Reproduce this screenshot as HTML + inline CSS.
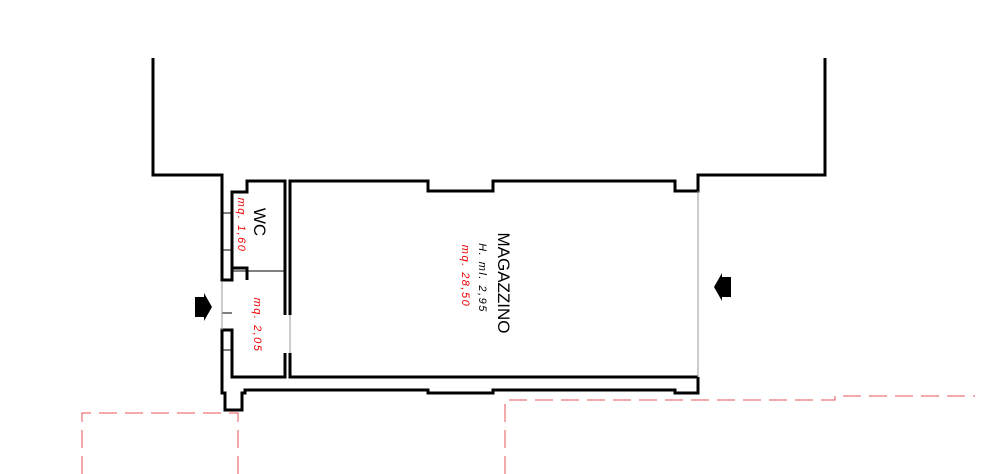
<!DOCTYPE html>
<html><head><style>html,body{margin:0;padding:0;background:#fff;}svg{display:block;}</style></head>
<body>
<svg width="983" height="474" viewBox="0 0 983 474" xmlns="http://www.w3.org/2000/svg" font-family="Liberation Sans, sans-serif">
<g fill="none" stroke="#000" stroke-width="3" stroke-linejoin="miter">
<polyline points="153,58 153,175 222,175 222,280 232,280 232,268 247,268 247,280"/>
<polyline points="285,268 285,181 247,181 247,192 232,192 232,268"/>
<polyline points="285,268 285,315"/>
<polyline points="290,315 290,181 428,181 428,191 493,191 493,181 675,181 675,191 698,191 698,175 825,175 825,58"/>
<polyline points="290,353 290,377 698,377"/>
<polyline points="698,377 698,393 675,393 675,390 493,390 493,393 428,393 428,390 245,390 245,393 242,393 242,410 225,410 225,393 222,393 222,330 232,330 232,377 285,377 285,353"/>
</g>
<g stroke="#000" stroke-width="1">
<line x1="232" y1="271" x2="285" y2="271"/>
<line x1="222" y1="213" x2="232" y2="213"/>
<line x1="222" y1="250" x2="232" y2="250"/>
<line x1="222" y1="313" x2="232" y2="313"/>
<line x1="222" y1="350" x2="232" y2="350"/>
</g>
<g stroke="#999" stroke-width="1">
<line x1="222" y1="282" x2="222" y2="330"/>
<line x1="290" y1="315" x2="290" y2="353"/>
<line x1="698" y1="191" x2="698" y2="377"/>
</g>
<g fill="none" stroke="#e85555" stroke-width="1" stroke-dasharray="18,8">
<polyline points="82,474 82,413 238,413 238,474"/>
<polyline points="505,474 505,400 835,400 835,396 975,396"/>
</g>
<polygon points="195,297 204,297 204,293 212,307 204,321 204,317 195,317" fill="#000"/>
<polygon points="731,277 722,277 722,273 714,287 722,301 722,297 731,297" fill="#000"/>
<g transform="translate(260,222) rotate(90)"><text text-anchor="middle" font-size="17" y="6" fill="#000">WC</text></g>
<g transform="translate(242,225) rotate(90)"><text text-anchor="middle" font-size="11" font-style="italic" letter-spacing="1.5" y="4" fill="#e00">mq. 1,60</text></g>
<g transform="translate(258,325) rotate(90)"><text text-anchor="middle" font-size="11" font-style="italic" letter-spacing="1.5" y="4" fill="#e00">mq. 2,05</text></g>
<g transform="translate(504,283) rotate(90)"><text text-anchor="middle" font-size="17" y="6" fill="#000">MAGAZZINO</text></g>
<g transform="translate(483,278) rotate(90)"><text text-anchor="middle" font-size="11" font-style="italic" letter-spacing="1.5" y="4" fill="#000">H. ml. 2,95</text></g>
<g transform="translate(466,276) rotate(90)"><text text-anchor="middle" font-size="11" font-style="italic" letter-spacing="1.5" y="4" fill="#e00">mq. 28,50</text></g>
</svg>
</body></html>
